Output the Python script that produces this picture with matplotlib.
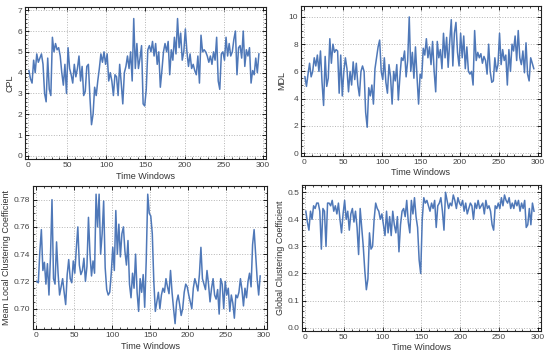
import numpy as np
import matplotlib.pyplot as plt
from matplotlib.ticker import MultipleLocator

plt.rcParams['font.family'] = ['Liberation Sans', 'DejaVu Sans']

# values sampled every 2 time windows (1, 3, 5, ... 295)
cpl = [4.1, 3.7, 3.5, 4.6, 4.0, 4.9, 4.5, 4.7, 4.9, 4.4,
       3.0, 2.6, 4.7, 3.2, 2.9, 5.7, 5.0, 5.4, 5.1, 5.2,
       4.8, 4.0, 3.4, 4.4, 3.0, 5.2, 4.2, 3.9, 3.5, 4.4,
       3.8, 4.2, 4.8, 3.6, 4.3, 2.9, 3.1, 4.3, 4.4, 2.8,
       1.5, 2.0, 3.3, 2.9, 3.6, 4.2, 4.9, 4.5, 5.0, 4.4,
       4.9, 3.6, 4.0, 3.6, 2.9, 3.9, 3.8, 2.9, 4.4, 3.5,
       2.5, 4.0, 4.3, 4.8, 4.2, 5.0, 3.6, 6.6, 4.2, 5.4,
       4.2, 4.7, 5.3, 2.5, 2.4, 3.2, 5.1, 5.3, 5.0, 5.5,
       4.8, 5.4, 4.4, 5.0, 3.3, 4.1, 5.0, 5.4, 5.0, 5.5,
       3.9, 5.1, 4.6, 5.7, 4.9, 6.6, 5.2, 5.9, 4.6, 5.0,
       6.1, 5.0, 4.3, 4.9, 4.2, 4.4, 4.1, 3.9, 4.8, 3.5,
       5.8, 5.0, 5.1, 5.0, 4.8, 4.5, 4.8, 4.4, 5.0, 4.6,
       5.7, 3.6, 3.2, 4.9, 5.0, 4.6, 5.7, 4.8, 5.4, 4.8,
       5.0, 5.6, 6.0, 3.9, 5.2, 5.3, 4.7, 6.0, 4.3, 5.1,
       4.8, 5.2, 3.5, 4.1, 3.9, 4.7, 4.0, 4.9]

mdl = [5.6, 4.9, 5.8, 6.6, 5.6, 6.0, 7.0, 6.4, 7.2, 6.0,
       7.5, 5.2, 3.5, 7.1, 4.9, 5.5, 8.4, 6.6, 8.0, 7.4,
       7.6, 7.5, 4.4, 7.2, 4.2, 6.0, 7.0, 6.2, 4.5, 6.0,
       5.0, 6.7, 5.4, 6.6, 5.0, 4.2, 6.0, 6.4, 6.0, 3.0,
       1.9, 4.8, 4.2, 5.0, 3.6, 6.2, 7.0, 7.8, 8.3, 6.0,
       5.4, 7.0, 5.2, 4.4, 6.5, 5.6, 3.6, 6.0, 5.3, 6.5,
       3.9, 5.6, 7.0, 6.8, 7.5, 5.6, 6.8, 10.0, 6.0, 7.4,
       5.5, 7.8, 5.6, 3.6, 5.8, 5.5, 7.7, 7.2, 8.4, 7.0,
       7.8, 6.5, 8.2, 6.0, 4.5, 8.2, 7.0, 7.6, 6.2, 8.8,
       7.0, 8.5, 6.3, 8.2, 9.8, 6.4, 8.8, 9.6, 7.4, 6.4,
       8.8, 7.0, 8.6, 6.2, 7.8, 6.0, 5.8, 6.0, 5.0, 9.0,
       6.8, 7.4, 7.0, 7.3, 6.6, 7.1, 6.8, 5.8, 8.0, 6.0,
       5.2, 5.3, 7.0, 6.0, 6.5, 8.8, 6.5, 7.6, 6.8, 7.2,
       5.0, 7.6, 6.0, 8.0, 7.5, 8.6, 6.8, 9.0, 7.0, 6.5,
       7.5, 5.9, 8.1, 5.8, 5.3, 7.0, 6.6, 6.2]

mlcc = [0.720, 0.719, 0.742, 0.758, 0.728, 0.734, 0.718, 0.733, 0.710, 0.738,
        0.780, 0.722, 0.718, 0.749, 0.726, 0.710, 0.716, 0.722, 0.712, 0.703,
        0.725, 0.736, 0.722, 0.719, 0.735, 0.726, 0.744, 0.760, 0.732, 0.725,
        0.728, 0.737, 0.720, 0.731, 0.767, 0.740, 0.724, 0.735, 0.726, 0.784,
        0.760, 0.784, 0.740, 0.755, 0.779, 0.730, 0.714, 0.710, 0.712, 0.726,
        0.745, 0.728, 0.772, 0.740, 0.762, 0.738, 0.755, 0.760, 0.742, 0.732,
        0.750, 0.718, 0.708, 0.726, 0.715, 0.740, 0.712, 0.698, 0.722, 0.712,
        0.725, 0.701, 0.735, 0.784, 0.770, 0.768, 0.755, 0.720, 0.698, 0.705,
        0.712, 0.700, 0.710, 0.715, 0.712, 0.722, 0.716, 0.711, 0.728, 0.712,
        0.700, 0.689, 0.705, 0.710, 0.703, 0.695, 0.700, 0.712, 0.718, 0.716,
        0.710, 0.705, 0.700, 0.715, 0.722, 0.718, 0.713, 0.725, 0.745, 0.722,
        0.718, 0.714, 0.728, 0.718, 0.705, 0.715, 0.722, 0.710, 0.707, 0.714,
        0.696, 0.722, 0.718, 0.700, 0.720, 0.710, 0.715, 0.698, 0.710, 0.704,
        0.693, 0.710, 0.708, 0.712, 0.722, 0.714, 0.702, 0.715, 0.708, 0.720,
        0.726, 0.716, 0.747, 0.758, 0.740, 0.722, 0.710, 0.724]

gcc = [0.43, 0.39, 0.36, 0.43, 0.40, 0.45, 0.44, 0.46, 0.46, 0.43,
       0.29, 0.44, 0.43, 0.30, 0.46, 0.46, 0.45, 0.47, 0.43, 0.45,
       0.42, 0.46, 0.40, 0.35, 0.42, 0.47, 0.40, 0.43, 0.36, 0.42,
       0.44, 0.39, 0.43, 0.37, 0.27, 0.44, 0.37, 0.30, 0.21, 0.14,
       0.18, 0.35, 0.29, 0.30, 0.40, 0.46, 0.44, 0.43, 0.40, 0.42,
       0.38, 0.34, 0.43, 0.35, 0.41, 0.34, 0.43, 0.38, 0.35, 0.41,
       0.28, 0.38, 0.43, 0.44, 0.41, 0.47, 0.39, 0.35, 0.47, 0.42,
       0.48, 0.41, 0.37, 0.25, 0.20, 0.40, 0.48, 0.46, 0.47, 0.45,
       0.43, 0.46, 0.44, 0.47, 0.37, 0.45, 0.46, 0.48, 0.43, 0.36,
       0.50, 0.47, 0.44, 0.46, 0.45, 0.49, 0.47, 0.44, 0.48, 0.46,
       0.45, 0.47, 0.43, 0.46, 0.42, 0.44, 0.46, 0.45, 0.40, 0.46,
       0.44, 0.47, 0.44, 0.45, 0.46, 0.42, 0.47, 0.44, 0.45, 0.43,
       0.38, 0.36, 0.45, 0.44, 0.46, 0.44, 0.48, 0.45, 0.49, 0.47,
       0.46, 0.48, 0.44, 0.46, 0.44, 0.47, 0.45, 0.47, 0.43, 0.46,
       0.44, 0.47, 0.37, 0.38, 0.44, 0.38, 0.46, 0.43]

LINE = '#4f78b8'


def panel(rect, values, ylabel, ylim, ymaj, ymin, yfmt):
    ax = fig.add_axes(rect)
    t = np.arange(len(values)) * 2 + 1
    ax.plot(t, values, color=LINE, lw=1.1)
    ax.set_xlim(-4, 304)
    ax.set_ylim(*ylim)
    ax.xaxis.set_major_locator(MultipleLocator(50))
    ax.xaxis.set_minor_locator(MultipleLocator(10))
    ax.yaxis.set_major_locator(MultipleLocator(ymaj))
    ax.yaxis.set_minor_locator(MultipleLocator(ymin))
    ax.yaxis.set_major_formatter(yfmt)
    ax.grid(True, which='major', color='#b5b5b5', ls=':', lw=0.7)
    ax.tick_params(which='both', direction='in', top=True, right=True,
                   labelsize=6, labelcolor='#444444', pad=2)
    ax.tick_params(which='major', length=3, width=0.6)
    ax.tick_params(which='minor', length=1.6, width=0.5)
    for s in ax.spines.values():
        s.set_linewidth(0.8)
        s.set_color('#222222')
    ax.set_xlabel('Time Windows', fontsize=6.5, color='#333333', labelpad=2)
    ax.set_ylabel(ylabel, fontsize=6.5, color='#333333', labelpad=2)
    return ax


fig = plt.figure(figsize=(5.5, 3.55), dpi=100)

panel([0.0455, 0.552, 0.438, 0.428], cpl, 'CPL', (-0.15, 7.15), 1, 0.2, '{x:.0f}')
panel([0.5473, 0.561, 0.436, 0.422], mdl, 'MDL', (-0.2, 10.8), 2, 0.5, '{x:.0f}')
panel([0.06, 0.073, 0.4255, 0.403], mlcc, 'Mean Local Clustering Coefficient',
      (0.685, 0.790), 0.02, 0.005, '{x:.2f}')
panel([0.549, 0.068, 0.4346, 0.411], gcc, 'Global Clustering Coefficient',
      (-0.012, 0.527), 0.1, 0.02, '{x:.1f}')

fig.savefig('out.png', dpi=100, facecolor='white')
